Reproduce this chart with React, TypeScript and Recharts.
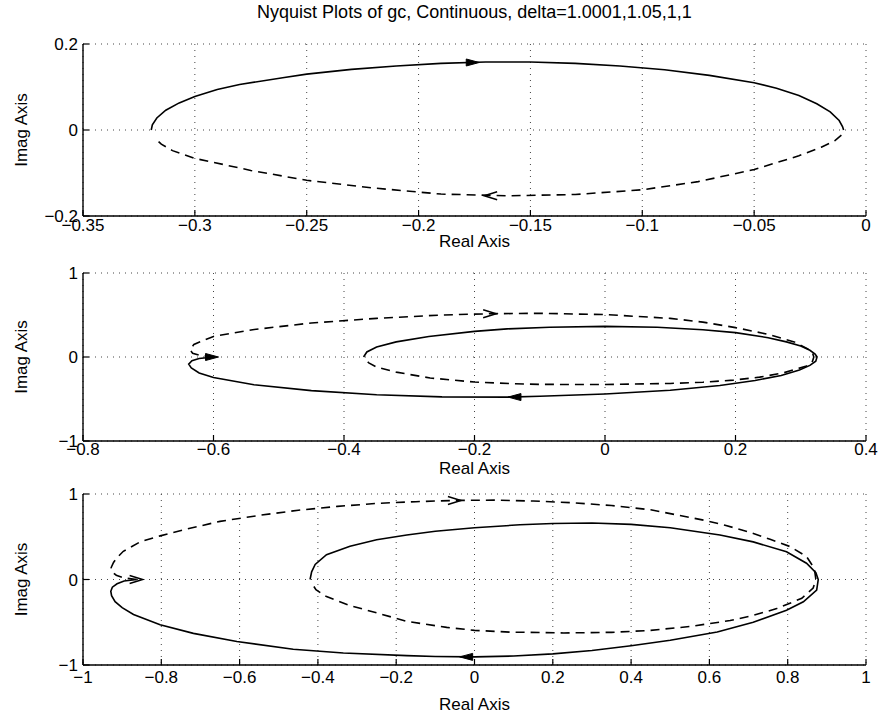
import React from 'react';
import { ScatterChart, Scatter, XAxis, YAxis, CartesianGrid } from 'recharts';

const FONT = "'Liberation Sans', Arial, Helvetica, sans-serif";

const titleText = 'Nyquist Plots of gc, Continuous, delta=1.0001,1.05,1,1';

// ---- tick labels ----
const topXTicks = [-0.35, -0.3, -0.25, -0.2, -0.15, -0.1, -0.05, 0];
const topYTicks = [-0.2, 0, 0.2];
const midXTicks = [-0.8, -0.6, -0.4, -0.2, 0, 0.2, 0.4];
const midYTicks = [-1, 0, 1];
const botXTicks = [-1, -0.8, -0.6, -0.4, -0.2, 0, 0.2, 0.4, 0.6, 0.8, 1];
const botYTicks = [-1, 0, 1];

// ---- top plot (delta=1.0001) ----
const topSolid = [
  { x: -0.3195, y: 0 }, { x: -0.319, y: 0.012 }, { x: -0.317, y: 0.028 }, { x: -0.313, y: 0.046 },
  { x: -0.307, y: 0.063 }, { x: -0.3, y: 0.078 }, { x: -0.29, y: 0.094 }, { x: -0.28, y: 0.106 },
  { x: -0.26, y: 0.122 }, { x: -0.25, y: 0.13 }, { x: -0.23, y: 0.141 }, { x: -0.21, y: 0.149 },
  { x: -0.19, y: 0.155 }, { x: -0.17, y: 0.158 }, { x: -0.15, y: 0.158 }, { x: -0.13, y: 0.155 },
  { x: -0.11, y: 0.149 }, { x: -0.09, y: 0.14 }, { x: -0.07, y: 0.127 }, { x: -0.05, y: 0.11 },
  { x: -0.04, y: 0.097 }, { x: -0.03, y: 0.08 }, { x: -0.022, y: 0.061 }, { x: -0.016, y: 0.042 },
  { x: -0.012, y: 0.022 }, { x: -0.0105, y: 0.008 }, { x: -0.01, y: 0 },
];
const topDashed = [
  { x: -0.011, y: -0.012 }, { x: -0.014, y: -0.025 }, { x: -0.02, y: -0.04 }, { x: -0.03, y: -0.06 },
  { x: -0.05, y: -0.092 }, { x: -0.075, y: -0.12 }, { x: -0.1, y: -0.139 }, { x: -0.13, y: -0.15 },
  { x: -0.16, y: -0.153 }, { x: -0.19, y: -0.149 }, { x: -0.22, y: -0.135 }, { x: -0.25, y: -0.117 },
  { x: -0.275, y: -0.094 }, { x: -0.3, y: -0.066 }, { x: -0.31, y: -0.048 }, { x: -0.315, y: -0.033 },
  { x: -0.318, y: -0.018 },
];
const topSolidArrows = [{ x: -0.176, y: 0.157, dir: 1 }];
const topDashedArrows = [{ x: -0.168, y: -0.153, dir: -1 }];

// ---- middle plot (delta=1.05) ----
const midSolid = [
  { x: -0.37, y: 0 }, { x: -0.365, y: 0.06 }, { x: -0.35, y: 0.12 }, { x: -0.32, y: 0.18 },
  { x: -0.27, y: 0.245 }, { x: -0.2, y: 0.305 }, { x: -0.15, y: 0.335 }, { x: -0.085, y: 0.355 },
  { x: 0, y: 0.365 }, { x: 0.08, y: 0.355 }, { x: 0.15, y: 0.325 }, { x: 0.2, y: 0.29 },
  { x: 0.25, y: 0.23 }, { x: 0.278, y: 0.18 }, { x: 0.3, y: 0.13 }, { x: 0.314, y: 0.08 },
  { x: 0.322, y: 0.035 }, { x: 0.325, y: 0 }, { x: 0.323, y: -0.05 }, { x: 0.314, y: -0.1 },
  { x: 0.298, y: -0.155 }, { x: 0.27, y: -0.22 }, { x: 0.23, y: -0.28 }, { x: 0.176, y: -0.34 },
  { x: 0.1, y: -0.395 }, { x: 0, y: -0.44 }, { x: -0.1, y: -0.468 }, { x: -0.15, y: -0.478 },
  { x: -0.25, y: -0.475 }, { x: -0.35, y: -0.45 }, { x: -0.45, y: -0.4 }, { x: -0.538, y: -0.33 },
  { x: -0.6, y: -0.245 }, { x: -0.622, y: -0.19 }, { x: -0.634, y: -0.13 }, { x: -0.638, y: -0.085 },
  { x: -0.633, y: -0.045 }, { x: -0.622, y: -0.018 }, { x: -0.6, y: 0 },
];
const midDashed = [
  { x: -0.6, y: 0 }, { x: -0.62, y: 0.018 }, { x: -0.632, y: 0.045 }, { x: -0.636, y: 0.085 },
  { x: -0.63, y: 0.15 }, { x: -0.6, y: 0.245 }, { x: -0.54, y: 0.325 }, { x: -0.45, y: 0.405 },
  { x: -0.35, y: 0.46 }, { x: -0.25, y: 0.5 }, { x: -0.176, y: 0.515 }, { x: -0.1, y: 0.52 },
  { x: 0, y: 0.505 }, { x: 0.1, y: 0.46 }, { x: 0.15, y: 0.415 }, { x: 0.2, y: 0.35 },
  { x: 0.25, y: 0.27 }, { x: 0.29, y: 0.18 }, { x: 0.31, y: 0.1 }, { x: 0.318, y: 0.05 },
  { x: 0.32, y: 0 }, { x: 0.318, y: -0.05 }, { x: 0.309, y: -0.107 }, { x: 0.273, y: -0.19 },
  { x: 0.237, y: -0.24 }, { x: 0.197, y: -0.275 }, { x: 0.15, y: -0.3 }, { x: 0.1, y: -0.315 },
  { x: 0, y: -0.328 }, { x: -0.1, y: -0.326 }, { x: -0.14, y: -0.318 }, { x: -0.2, y: -0.298 },
  { x: -0.268, y: -0.25 }, { x: -0.32, y: -0.18 }, { x: -0.35, y: -0.12 }, { x: -0.362, y: -0.07 },
  { x: -0.368, y: -0.03 },
];
const midSolidArrows = [{ x: -0.138, y: -0.477, dir: -1 }, { x: -0.603, y: 0, dir: 1 }];
const midDashedArrows = [{ x: -0.176, y: 0.515, dir: 1 }];

// ---- bottom plot (delta=1) ----
const botSolid = [
  { x: -0.42, y: 0 }, { x: -0.416, y: 0.09 }, { x: -0.407, y: 0.176 }, { x: -0.378, y: 0.29 },
  { x: -0.318, y: 0.39 }, { x: -0.25, y: 0.465 }, { x: -0.173, y: 0.52 }, { x: -0.1, y: 0.565 },
  { x: 0, y: 0.605 }, { x: 0.116, y: 0.64 }, { x: 0.2, y: 0.655 }, { x: 0.3, y: 0.66 },
  { x: 0.4, y: 0.645 }, { x: 0.5, y: 0.605 }, { x: 0.627, y: 0.52 }, { x: 0.712, y: 0.44 },
  { x: 0.797, y: 0.325 }, { x: 0.848, y: 0.19 }, { x: 0.872, y: 0.08 }, { x: 0.878, y: 0 },
  { x: 0.874, y: -0.125 }, { x: 0.84, y: -0.26 }, { x: 0.797, y: -0.36 }, { x: 0.712, y: -0.5 },
  { x: 0.62, y: -0.615 }, { x: 0.5, y: -0.71 }, { x: 0.4, y: -0.775 }, { x: 0.3, y: -0.83 },
  { x: 0.2, y: -0.87 }, { x: 0.1, y: -0.895 }, { x: 0, y: -0.905 }, { x: -0.1, y: -0.9 },
  { x: -0.173, y: -0.89 }, { x: -0.335, y: -0.86 }, { x: -0.463, y: -0.815 }, { x: -0.607, y: -0.725 },
  { x: -0.718, y: -0.63 }, { x: -0.803, y: -0.53 }, { x: -0.871, y: -0.41 }, { x: -0.9, y: -0.33 },
  { x: -0.918, y: -0.26 }, { x: -0.927, y: -0.19 }, { x: -0.929, y: -0.137 }, { x: -0.925, y: -0.09 },
  { x: -0.913, y: -0.05 }, { x: -0.895, y: -0.018 }, { x: -0.863, y: 0 },
];
const botDashed = [
  { x: -0.863, y: 0 }, { x: -0.895, y: 0.018 }, { x: -0.915, y: 0.05 }, { x: -0.926, y: 0.09 },
  { x: -0.928, y: 0.14 }, { x: -0.922, y: 0.2 }, { x: -0.912, y: 0.26 }, { x: -0.897, y: 0.33 },
  { x: -0.854, y: 0.44 }, { x: -0.803, y: 0.51 }, { x: -0.735, y: 0.59 }, { x: -0.65, y: 0.68 },
  { x: -0.55, y: 0.75 }, { x: -0.45, y: 0.81 }, { x: -0.35, y: 0.855 }, { x: -0.25, y: 0.89 },
  { x: -0.15, y: 0.91 }, { x: -0.05, y: 0.925 }, { x: 0.05, y: 0.928 }, { x: 0.15, y: 0.918 },
  { x: 0.25, y: 0.898 }, { x: 0.35, y: 0.865 }, { x: 0.45, y: 0.815 }, { x: 0.59, y: 0.69 },
  { x: 0.64, y: 0.635 }, { x: 0.704, y: 0.55 }, { x: 0.755, y: 0.47 }, { x: 0.806, y: 0.385 },
  { x: 0.848, y: 0.27 }, { x: 0.868, y: 0.13 }, { x: 0.872, y: 0 }, { x: 0.865, y: -0.1 },
  { x: 0.836, y: -0.22 }, { x: 0.772, y: -0.34 }, { x: 0.712, y: -0.42 }, { x: 0.653, y: -0.48 },
  { x: 0.55, y: -0.55 }, { x: 0.45, y: -0.595 }, { x: 0.35, y: -0.618 }, { x: 0.228, y: -0.625 },
  { x: 0.09, y: -0.615 }, { x: 0, y: -0.595 }, { x: -0.071, y: -0.56 }, { x: -0.173, y: -0.49 },
  { x: -0.25, y: -0.39 }, { x: -0.318, y: -0.305 }, { x: -0.378, y: -0.2 }, { x: -0.405, y: -0.12 },
  { x: -0.416, y: -0.04 },
];
const botSolidArrows = [{ x: -0.02, y: -0.905, dir: -1 }];
const botDashedArrows = [{ x: -0.05, y: 0.925, dir: 1 }, { x: -0.863, y: 0, dir: 1 }];

const fmt = (v: number) => String(v).replace('-', '\u2212');

const BottomTick = (p: any) => (
  <g>
    <line x1={p.x} y1={p.y} x2={p.x} y2={p.y - 6} stroke="#000" strokeWidth={1.2} />
    <text x={p.x} y={p.y + p.off} textAnchor="middle" fontSize={17} fontFamily={FONT} fill="#000">
      {fmt(p.payload.value)}
    </text>
  </g>
);
const TopTick = (p: any) => (
  <line x1={p.x} y1={p.y} x2={p.x} y2={p.y + 6} stroke="#000" strokeWidth={1.2} />
);
const LeftTick = (p: any) => (
  <g>
    <line x1={p.x} y1={p.y} x2={p.x + 6} y2={p.y} stroke="#000" strokeWidth={1.2} />
    <text x={p.x - 5} y={p.y + 6} textAnchor="end" fontSize={17} fontFamily={FONT} fill="#000">
      {fmt(p.payload.value)}
    </text>
  </g>
);
const RightTick = (p: any) => (
  <line x1={p.x} y1={p.y} x2={p.x - 6} y2={p.y} stroke="#000" strokeWidth={1.2} />
);

const Arrow = (p: any) => {
  const { cx, cy, payload, dashed } = p;
  const d = payload.dir;
  if (dashed) {
    return (
      <polyline
        points={`${cx - d * 7},${cy - 4} ${cx + d * 6},${cy} ${cx - d * 7},${cy + 4}`}
        fill="none"
        stroke="#000"
        strokeWidth={1.5}
      />
    );
  }
  return (
    <polygon
      points={`${cx + d * 7},${cy} ${cx - d * 6},${cy - 3.5} ${cx - d * 6},${cy + 3.5}`}
      fill="#000"
      stroke="#000"
      strokeWidth={1}
    />
  );
};

const NoShape = () => <g />;

type PlotProps = {
  plotTop: number;
  plotBottom: number;
  xDomain: [number, number];
  yDomain: [number, number];
  xTicks: number[];
  yTicks: number[];
  solid: { x: number; y: number }[];
  dashed: { x: number; y: number }[];
  solidArrows: { x: number; y: number; dir: number }[];
  dashedArrows: { x: number; y: number; dir: number }[];
  tickOff: number;
  labelOff: number;
};

const Plot = (props: PlotProps) => {
  const padTop = 20;
  const axisH = 52;
  const h = props.plotBottom - props.plotTop + padTop + axisH;
  return (
    <div style={{ position: 'absolute', left: 0, top: props.plotTop - padTop, width: 883, height: h }}>
      <ScatterChart width={883} height={h} margin={{ top: padTop, right: 17, bottom: 0, left: 0 }}>
        <CartesianGrid stroke="#444" strokeDasharray="1 5" strokeWidth={1} />
        <XAxis
          type="number"
          dataKey="x"
          domain={props.xDomain}
          ticks={props.xTicks}
          interval={0}
          allowDataOverflow
          height={axisH}
          tickSize={0}
          tickMargin={0}
          tickLine={false}
          axisLine={{ stroke: '#000', strokeWidth: 1.4 }}
          tick={(p: any) => <BottomTick {...p} off={props.tickOff} />}
          label={(lp: any) => {
            const vb = lp.viewBox;
            return (
              <text
                x={vb.x + vb.width / 2}
                y={vb.y + props.labelOff}
                textAnchor="middle"
                fontSize={17}
                fontFamily={FONT}
                fill="#000"
              >
                Real Axis
              </text>
            );
          }}
        />
        <XAxis
          xAxisId="top"
          orientation="top"
          type="number"
          dataKey="x"
          domain={props.xDomain}
          ticks={props.xTicks}
          interval={0}
          allowDataOverflow
          height={0}
          tickSize={0}
          tickMargin={0}
          tickLine={false}
          axisLine={{ stroke: '#000', strokeWidth: 1.4 }}
          tick={(p: any) => <TopTick {...p} />}
        />
        <YAxis
          type="number"
          dataKey="y"
          domain={props.yDomain}
          ticks={props.yTicks}
          interval={0}
          allowDataOverflow
          width={83}
          tickSize={0}
          tickMargin={0}
          tickLine={false}
          axisLine={{ stroke: '#000', strokeWidth: 1.4 }}
          tick={(p: any) => <LeftTick {...p} />}
          label={(lp: any) => {
            const vb = lp.viewBox;
            const cx = 21;
            const cy = vb.y + vb.height / 2;
            return (
              <text
                x={cx}
                y={cy}
                transform={`rotate(-90 ${cx} ${cy})`}
                textAnchor="middle"
                dominantBaseline="central"
                fontSize={17}
                fontFamily={FONT}
                fill="#000"
              >
                Imag Axis
              </text>
            );
          }}
        />
        <YAxis
          yAxisId="right"
          orientation="right"
          type="number"
          dataKey="y"
          domain={props.yDomain}
          ticks={props.yTicks}
          interval={0}
          allowDataOverflow
          width={0}
          tickSize={0}
          tickMargin={0}
          tickLine={false}
          axisLine={{ stroke: '#000', strokeWidth: 1.4 }}
          tick={(p: any) => <RightTick {...p} />}
        />
        <Scatter
          data={props.solid}
          line={{ stroke: '#000', strokeWidth: 1.6, fill: 'none' }}
          lineType="joint"
          shape={NoShape}
          isAnimationActive={false}
        />
        <Scatter
          data={props.dashed}
          line={{ stroke: '#000', strokeWidth: 1.6, strokeDasharray: '9 6', fill: 'none' }}
          lineType="joint"
          shape={NoShape}
          isAnimationActive={false}
        />
        <Scatter
          data={props.solidArrows}
          shape={(p: any) => <Arrow {...p} dashed={false} />}
          isAnimationActive={false}
        />
        <Scatter
          data={props.dashedArrows}
          shape={(p: any) => <Arrow {...p} dashed={true} />}
          isAnimationActive={false}
        />
      </ScatterChart>
    </div>
  );
};

export default function App() {
  return (
    <div
      style={{
        position: 'absolute',
        left: 0,
        top: 0,
        width: 883,
        height: 717,
        background: '#fff',
        overflow: 'hidden',
        fontFamily: FONT,
      }}
    >
      <div
        style={{
          position: 'absolute',
          left: 83,
          width: 783,
          top: 2,
          textAlign: 'center',
          fontSize: 18,
          lineHeight: '21px',
          color: '#000',
        }}
      >
        {titleText}
      </div>
      <Plot
        plotTop={44}
        plotBottom={216}
        xDomain={[-0.35, 0]}
        yDomain={[-0.2, 0.2]}
        xTicks={topXTicks}
        yTicks={topYTicks}
        solid={topSolid}
        dashed={topDashed}
        solidArrows={topSolidArrows}
        dashedArrows={topDashedArrows}
        tickOff={15}
        labelOff={31}
      />
      <Plot
        plotTop={273}
        plotBottom={441}
        xDomain={[-0.8, 0.4]}
        yDomain={[-1, 1]}
        xTicks={midXTicks}
        yTicks={midYTicks}
        solid={midSolid}
        dashed={midDashed}
        solidArrows={midSolidArrows}
        dashedArrows={midDashedArrows}
        tickOff={14}
        labelOff={33}
      />
      <Plot
        plotTop={494}
        plotBottom={665}
        xDomain={[-1, 1]}
        yDomain={[-1, 1]}
        xTicks={botXTicks}
        yTicks={botYTicks}
        solid={botSolid}
        dashed={botDashed}
        solidArrows={botSolidArrows}
        dashedArrows={botDashedArrows}
        tickOff={18}
        labelOff={45}
      />
    </div>
  );
}
